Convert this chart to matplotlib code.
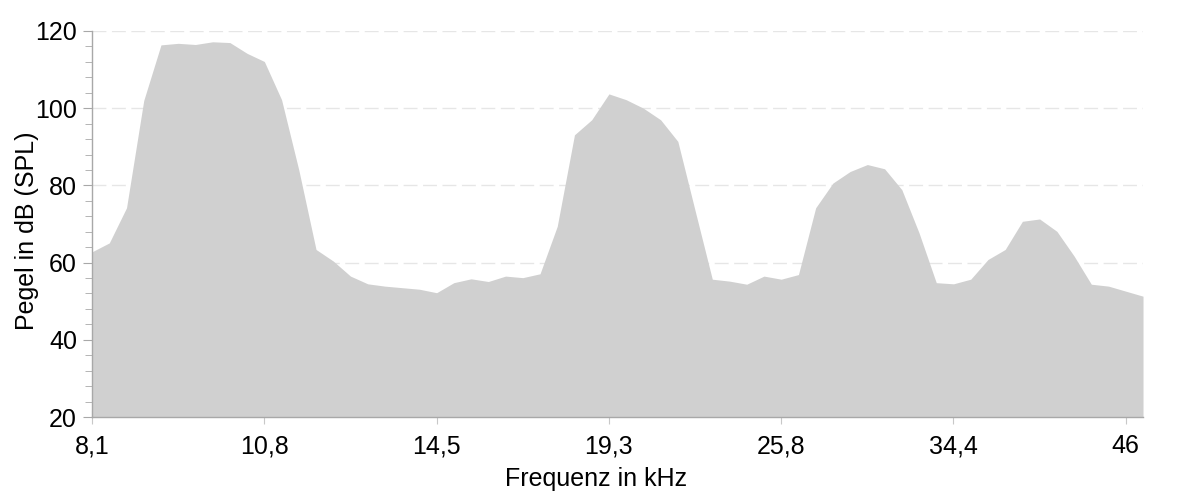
import numpy as np
import matplotlib.pyplot as plt
from matplotlib.ticker import MultipleLocator, FixedLocator

plt.rcParams['font.family'] = ['Liberation Sans', 'DejaVu Sans']

# Sound pressure level per 1/24-octave band, starting at 8.1 kHz
pegel = [62.8, 65.1, 74.2, 102.0, 116.4, 116.8, 116.5, 117.2, 117.0, 114.2,
         112.1, 102.2, 84.0, 63.4, 60.4, 56.5, 54.5, 53.9, 53.5, 53.1,
         52.2, 54.8, 55.8, 55.1, 56.5, 56.1, 57.1, 69.4, 93.1, 97.0,
         103.7, 102.2, 100.0, 97.0, 91.4, 73.5, 55.7, 55.2, 54.4, 56.5,
         55.7, 56.9, 74.2, 80.6, 83.6, 85.4, 84.3, 78.9, 67.7, 54.8,
         54.5, 55.7, 60.8, 63.4, 70.7, 71.3, 68.1, 61.7, 54.4, 53.9,
         52.6, 51.3]
tick_labels = ["8,1", "10,8", "14,5", "19,3", "25,8", "34,4", "46"]
tick_step = 10

x = np.arange(len(pegel))

fig = plt.figure(figsize=(11.94, 4.91), dpi=100)
ax = fig.add_axes([0.0771, 0.1507, 0.9573 - 0.0771, 0.9369 - 0.1507])

ax.fill_between(x, 20, pegel, color="#d0d0d0", linewidth=0, zorder=2)

ax.set_xlim(0, len(pegel) - 1)
ax.set_ylim(20, 120)

ax.xaxis.set_major_locator(FixedLocator(x[::tick_step][:len(tick_labels)]))
ax.set_xticklabels(tick_labels)
ax.yaxis.set_major_locator(MultipleLocator(20))
ax.yaxis.set_minor_locator(MultipleLocator(4))

ax.grid(axis="y", which="major", color="#e6e6e6", linestyle=(0, (10, 4)),
        linewidth=1, zorder=0)
ax.set_axisbelow(True)

for side in ["top", "right"]:
    ax.spines[side].set_visible(False)
for side in ["left", "bottom"]:
    ax.spines[side].set_color("#a8a8a8")
    ax.spines[side].set_linewidth(1)
    ax.spines[side].set_zorder(3)

ax.tick_params(axis="y", which="both", direction="out", color="#a8a8a8",
               labelsize=18, pad=4.3)
ax.tick_params(axis="y", which="major", length=6.5)
ax.tick_params(axis="y", which="minor", length=5)
ax.tick_params(axis="x", direction="inout", length=10, color="#c8c8c8",
               labelsize=18, pad=7.5)

ax.set_xlabel("Frequenz in kHz", fontsize=18)
ax.xaxis.set_label_coords(0.4795, -0.130)
ax.set_ylabel("Pegel in dB (SPL)", fontsize=18)
ax.yaxis.set_label_coords(-0.0504, 0.482)

fig.savefig("out.png", dpi=100, facecolor="white")
